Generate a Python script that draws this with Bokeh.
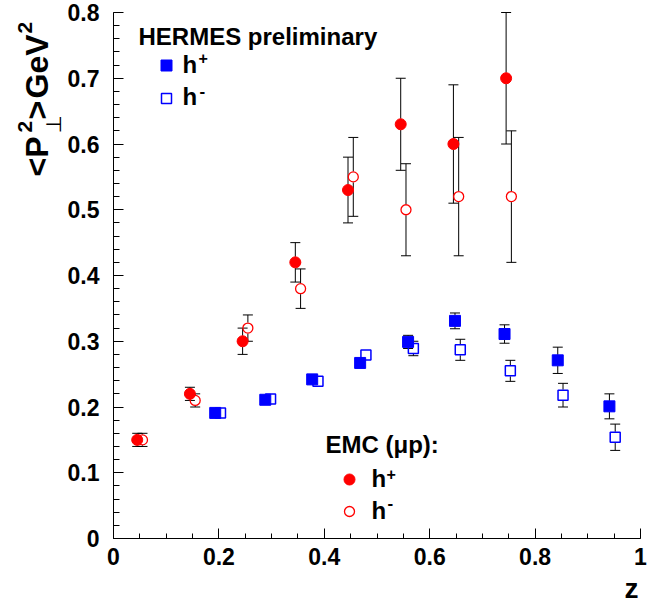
import numpy as np
from bokeh.plotting import figure
from bokeh.models import Range1d, FixedTicker, CustomJSTickFormatter, Label
from bokeh.embed import file_html
from bokeh.resources import INLINE

# ---------------- data ----------------
# HERMES preliminary
hermes_hp_z = [0.193, 0.288, 0.377, 0.468, 0.559, 0.648, 0.742, 0.843, 0.941]
hermes_hp_v = [0.191, 0.211, 0.242, 0.267, 0.299, 0.331, 0.311, 0.271, 0.201]
hermes_hp_e = [0.004, 0.004, 0.005, 0.005, 0.010, 0.012, 0.014, 0.020, 0.019]

hermes_hm_z = [0.203, 0.298, 0.388, 0.479, 0.569, 0.658, 0.753, 0.853, 0.952]
hermes_hm_v = [0.191, 0.212, 0.239, 0.279, 0.289, 0.287, 0.255, 0.218, 0.154]
hermes_hm_e = [0.004, 0.004, 0.005, 0.007, 0.011, 0.016, 0.016, 0.018, 0.020]

# EMC (mu p)
emc_hp_z = [0.045, 0.145, 0.245, 0.345, 0.445, 0.545, 0.645, 0.745]
emc_hp_v = [0.150, 0.220, 0.300, 0.420, 0.530, 0.630, 0.600, 0.700]
emc_hp_e = [0.010, 0.010, 0.020, 0.030, 0.050, 0.070, 0.090, 0.100]

emc_hm_z = [0.055, 0.155, 0.255, 0.355, 0.455, 0.555, 0.655, 0.755]
emc_hm_v = [0.150, 0.210, 0.320, 0.380, 0.550, 0.500, 0.520, 0.520]
emc_hm_e = [0.010, 0.010, 0.020, 0.030, 0.060, 0.070, 0.090, 0.100]

x_ticks = [0, 0.2, 0.4, 0.6, 0.8, 1.0]
y_ticks = [0, 0.1, 0.2, 0.3, 0.4, 0.5, 0.6, 0.7, 0.8]

# ---------------- layout ----------------
W, H = 652, 606
AX_L, AX_R = 113, 640      # canvas px of z = 0 and z = 1
AX_B, AX_T = 538, 12       # canvas px of y = 0 and y = 0.8
SX = (AX_R - AX_L) / 1.0
SY = (AX_B - AX_T) / 0.8
XS, XE = -AX_L / SX, 1.0 + (W - AX_R) / SX
YS, YE = -(H - AX_B) / SY, 0.8 + AX_T / SY

FONT = "Liberation Sans"

def pg(px, py):
    """canvas pixel -> data coordinates"""
    return XS + px / W * (XE - XS), YE - py / H * (YE - YS)

p = figure(width=W, height=H, output_backend="svg", toolbar_location=None,
           x_range=Range1d(XS, XE), y_range=Range1d(YS, YE), min_border=0)
p.title.visible = False
p.outline_line_color = None
p.xgrid.visible = False
p.ygrid.visible = False
p.background_fill_color = "white"
p.border_fill_color = "white"

fmt = CustomJSTickFormatter(code="return (Math.round(tick*10)/10).toString();")

xa, ya = p.xaxis[0], p.yaxis[0]
xa.ticker = FixedTicker(ticks=x_ticks, minor_ticks=list(np.round(np.arange(0, 1.0001, 0.05), 3)))
ya.ticker = FixedTicker(ticks=y_ticks, minor_ticks=list(np.round(np.arange(0, 0.8001, 0.02), 3)))
xa.fixed_location = 0
ya.fixed_location = 0
xa.bounds = (0, 1)
ya.bounds = (0, 0.8)
for ax in (xa, ya):
    ax.formatter = fmt
    ax.major_tick_out = 0
    ax.minor_tick_out = 0
    ax.major_tick_in = 10
    ax.axis_line_color = "black"
    ax.major_tick_line_color = "black"
    ax.minor_tick_line_color = "black"
    ax.major_label_text_font = FONT
    ax.major_label_text_font_style = "bold"
    ax.major_label_text_font_size = "23px"
    ax.major_label_text_color = "black"
xa.minor_tick_in = 5
ya.minor_tick_in = 6
xa.major_label_standoff = 9
ya.major_label_standoff = 14

# ---------------- error bars ----------------
GAP = 5.5 / SY

def errbars(z, v, e):
    x0s, y0s, y1s = [], [], []
    for zi, vi, ei in zip(z, v, e):
        if ei > GAP:
            x0s += [zi, zi]
            y0s += [vi + GAP, vi - GAP]
            y1s += [vi + ei, vi - ei]
    p.segment(x0=x0s, y0=y0s, x1=x0s, y1=y1s, line_color="black", line_width=1)
    p.scatter(x0s, y1s, marker="dash", size=10, line_color="black", line_width=1)

errbars(emc_hp_z, emc_hp_v, emc_hp_e)
errbars(emc_hm_z, emc_hm_v, emc_hm_e)
errbars(hermes_hp_z, hermes_hp_v, hermes_hp_e)
errbars(hermes_hm_z, hermes_hm_v, hermes_hm_e)

RED = "#ff0000"
BLUE = "#0000ff"

p.scatter(emc_hp_z, emc_hp_v, marker="circle", size=11, fill_color=RED, line_color=RED)
p.scatter(emc_hm_z, emc_hm_v, marker="circle", size=10, fill_color=None, line_color=RED, line_width=1.3)
p.scatter(hermes_hp_z, hermes_hp_v, marker="square", size=11, fill_color=BLUE, line_color=BLUE)
p.scatter(hermes_hm_z, hermes_hm_v, marker="square", size=10, fill_color=None, line_color=BLUE, line_width=1.5)

# ---------------- texts ----------------
BASE_SHIFT = 0.39  # measured offset of the rendered baseline, in em

def lab(px, py, text, size, style="bold", font=FONT, align="left", angle=0.0):
    s = BASE_SHIFT * size
    if angle == 0.0:
        py -= s
    else:
        px -= s
    x, y = pg(px, py)
    p.add_layout(Label(x=x, y=y, text=text, text_font=font, text_font_style=style,
                       text_font_size=f"{size}px", text_align=align, text_baseline="alphabetic",
                       angle=angle, text_color="black"))

# legend HERMES
lab(138, 45, "HERMES preliminary", 24)
kx, ky = pg(166, 65)
p.scatter([kx], [ky], marker="square", size=11, fill_color=BLUE, line_color=BLUE)
kx, ky = pg(166, 98)
p.scatter([kx], [ky], marker="square", size=10, fill_color=None, line_color=BLUE, line_width=1.5)
lab(182, 73, "h", 24)
lab(198, 64, "+", 16)
lab(182, 105, "h", 24)
lab(199, 97, "-", 17)

# legend EMC
lab(325, 453, "EMC (\u03bcp):", 24)
kx, ky = pg(349, 479)
p.scatter([kx], [ky], marker="circle", size=11, fill_color=RED, line_color=RED)
kx, ky = pg(349, 511)
p.scatter([kx], [ky], marker="circle", size=10, fill_color=None, line_color=RED, line_width=1.3)
lab(371, 487, "h", 24)
lab(386, 480, "+", 16)
lab(371, 519, "h", 24)
lab(387, 509, "-", 17)

# x-axis title
lab(638, 599, "z", 28, align="right")

# y-axis title (rotated)
A = np.pi / 2
lab(49, 176, "<P", 32, angle=A)
lab(33, 132, "2", 21, angle=A)
lab(62, 133, "\u22a5", 21, style="normal", font="DejaVu Sans", angle=A)
lab(49, 119, ">", 32, angle=A)
lab(49, 98, "GeV", 32, angle=A)
lab(33, 33, "2", 21, angle=A)

open("out.html", "w").write(file_html(p, INLINE))
